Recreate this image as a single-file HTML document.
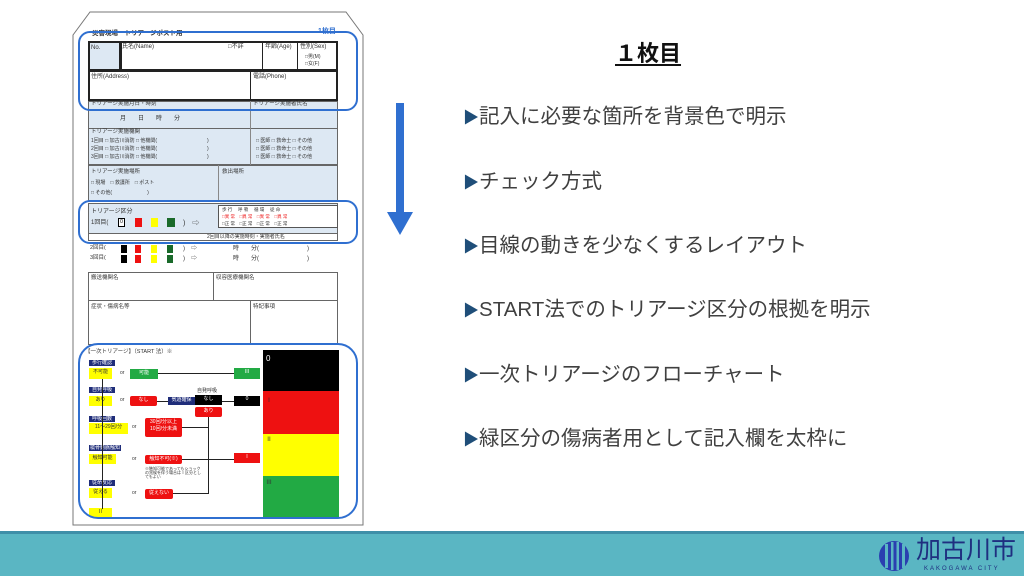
<!DOCTYPE html>
<html><head><meta charset="utf-8"><style>
*{margin:0;padding:0;box-sizing:border-box}
body{width:1024px;height:576px;position:relative;overflow:hidden;background:#fff;font-family:"Liberation Sans","Noto Sans CJK JP",sans-serif}
.a{position:absolute}
.t{position:absolute;font-size:6px;color:#333;white-space:nowrap;line-height:1}
.c{position:absolute;border:1px solid #666}
.lb{background:#dde8f3}
.nv{position:absolute;background:#1f2d7a;color:#fff;font-size:5px;text-align:center;line-height:6px}
.y{position:absolute;background:#ffff00;font-size:5px;text-align:center;color:#333}
.r{position:absolute;background:#ee1111;color:#fff;font-size:5px;text-align:center;border-radius:2px}
.g{position:absolute;background:#22aa44;color:#fff;font-size:5px;text-align:center}
.k{position:absolute;background:#000;color:#fff;font-size:5px;text-align:center}
.bl{position:absolute;border:2.5px solid #2f6fd0;border-radius:12px}
.b{position:absolute;left:463px;font-size:20.5px;color:#404040;white-space:nowrap}
.b span{color:#1f4e79;font-size:16px}
.ln{position:absolute;background:#222}
</style></head><body>
<svg class="a" style="left:0;top:0" width="380" height="540">
<polygon points="90,12 346,12 363,35 363,525 73,525 73,35" fill="#fff" stroke="#777" stroke-width="1"/>
</svg>
<div class="t" style="left:92px;top:31px;font-size:6.5px;font-weight:bold">災害現場ートリアージポスト用</div>
<div class="t" style="left:318px;top:28px;font-size:7px;color:#2f6fd0;font-weight:bold">1枚目</div>
<div class="c lb" style="left:88px;top:41px;width:33px;height:30px;border:2px solid #222"></div>
<div class="c" style="left:120px;top:41px;width:218px;height:30px;border:2px solid #222"></div>
<div class="ln" style="left:262px;top:41px;width:1px;height:30px"></div>
<div class="ln" style="left:297px;top:41px;width:1px;height:30px"></div>
<div class="t" style="left:91px;top:45px">No.</div>
<div class="t" style="left:122px;top:44px">氏名(Name)</div>
<div class="t" style="left:228px;top:44px">□不詳</div>
<div class="t" style="left:265px;top:44px">年齢(Age)</div>
<div class="t" style="left:300px;top:44px">性別(Sex)</div>
<div class="t" style="left:305px;top:55px;font-size:5px">□男(M)</div>
<div class="t" style="left:305px;top:62px;font-size:5px">□女(F)</div>
<div class="c" style="left:88px;top:70px;width:250px;height:31px;border:2px solid #222"></div>
<div class="ln" style="left:250px;top:70px;width:1px;height:31px"></div>
<div class="t" style="left:91px;top:74px">住所(Address)</div>
<div class="t" style="left:253px;top:74px">電話(Phone)</div>
<div class="c lb" style="left:88px;top:101px;width:250px;height:28px"></div>
<div class="ln" style="left:250px;top:101px;width:1px;height:28px;background:#888"></div>
<div class="t" style="left:91px;top:102px;font-size:5.5px">トリアージ実施月日・時刻</div>
<div class="t" style="left:253px;top:102px;font-size:5.5px">トリアージ実施者氏名</div>
<div class="t" style="left:120px;top:116px">月　　日　　時　　分</div>
<div class="c lb" style="left:88px;top:128px;width:250px;height:37px"></div>
<div class="ln" style="left:250px;top:128px;width:1px;height:37px;background:#888"></div>
<div class="t" style="left:91px;top:130px;font-size:5.5px">トリアージ実施機関</div>
<div class="t" style="left:91px;top:139px;font-size:5px">1回目 □ 加古川消防 □ 他機関(　　　　　　　　　　)</div>
<div class="t" style="left:91px;top:147px;font-size:5px">2回目 □ 加古川消防 □ 他機関(　　　　　　　　　　)</div>
<div class="t" style="left:91px;top:155px;font-size:5px">3回目 □ 加古川消防 □ 他機関(　　　　　　　　　　)</div>
<div class="t" style="left:256px;top:139px;font-size:5px">□ 医師 □ 救命士 □ その他</div>
<div class="t" style="left:256px;top:147px;font-size:5px">□ 医師 □ 救命士 □ その他</div>
<div class="t" style="left:256px;top:155px;font-size:5px">□ 医師 □ 救命士 □ その他</div>
<div class="c lb" style="left:88px;top:165px;width:250px;height:36px"></div>
<div class="ln" style="left:218px;top:165px;width:1px;height:36px;background:#888"></div>
<div class="t" style="left:91px;top:170px;font-size:5.5px">トリアージ実施場所</div>
<div class="t" style="left:91px;top:181px;font-size:5px">□ 現場　□ 救護所　□ ポスト</div>
<div class="t" style="left:91px;top:191px;font-size:5px">□ その他(　　　　　　　)</div>
<div class="t" style="left:222px;top:170px;font-size:5.5px">救出場所</div>
<div class="c lb" style="left:88px;top:203px;width:250px;height:31px"></div>
<div class="t" style="left:91px;top:209px;font-size:6px">トリアージ区分</div>
<div class="t" style="left:91px;top:220px;font-size:6px">1回目(</div>
<div class="k" style="left:118px;top:218px;width:7px;height:9px;border:1px solid #000;background:#fff;color:#000">0</div>
<div class="r" style="left:135px;top:218px;width:7px;height:9px;border-radius:0"></div>
<div class="y" style="left:151px;top:218px;width:7px;height:9px"></div>
<div class="g" style="left:167px;top:218px;width:8px;height:9px;background:#1a6a2a"></div>
<div class="t" style="left:183px;top:220px;font-size:7px">)　⇨</div>
<div class="a" style="left:218px;top:205px;width:120px;height:23px;border:1px solid #555;background:#fff"></div>
<div class="t" style="left:222px;top:208px;font-size:4.5px">歩 行　 呼 吸　 循 環　 従 命</div>
<div class="t" style="left:222px;top:215px;font-size:4.5px;color:#e22">□異 常　□異 常　□異 常　□異 常</div>
<div class="t" style="left:222px;top:222px;font-size:4.5px">□正 常　□正 常　□正 常　□正 常</div>
<div class="c" style="left:88px;top:233px;width:250px;height:8px"></div>
<div class="t" style="left:207px;top:235px;font-size:5px">2回目以降の実施時刻・実施者氏名</div>
<div class="t" style="left:90px;top:246px;font-size:5.5px">2回目(</div>
<div class="t" style="left:90px;top:256px;font-size:5.5px">3回目(</div>
<div class="k" style="left:121px;top:245px;width:6px;height:8px"></div><div class="r" style="left:135px;top:245px;width:6px;height:8px;border-radius:0"></div><div class="y" style="left:151px;top:245px;width:6px;height:8px"></div><div class="g" style="left:167px;top:245px;width:6px;height:8px;background:#1a6a2a"></div>
<div class="k" style="left:121px;top:255px;width:6px;height:8px"></div><div class="r" style="left:135px;top:255px;width:6px;height:8px;border-radius:0"></div><div class="y" style="left:151px;top:255px;width:6px;height:8px"></div><div class="g" style="left:167px;top:255px;width:6px;height:8px;background:#1a6a2a"></div>
<div class="t" style="left:183px;top:246px;font-size:6px">)　⇨　　　　　　時　　分(　　　　　　　　)</div>
<div class="t" style="left:183px;top:256px;font-size:6px">)　⇨　　　　　　時　　分(　　　　　　　　)</div>
<div class="c" style="left:88px;top:272px;width:250px;height:29px"></div>
<div class="ln" style="left:213px;top:272px;width:1px;height:29px;background:#666"></div>
<div class="t" style="left:91px;top:276px;font-size:5.5px">搬送機関名</div>
<div class="t" style="left:216px;top:276px;font-size:5.5px">収容医療機関名</div>
<div class="c" style="left:88px;top:300px;width:250px;height:45px"></div>
<div class="ln" style="left:250px;top:300px;width:1px;height:45px;background:#666"></div>
<div class="t" style="left:91px;top:305px;font-size:5.5px">症状・傷病名等</div>
<div class="t" style="left:253px;top:305px;font-size:5.5px">特記事項</div>
<div class="t" style="left:85px;top:350px;font-size:5.5px">【一次トリアージ】（START 法）※</div>
<div class="k" style="left:263px;top:350px;width:76px;height:41px"></div>
<div class="t" style="left:266px;top:355px;font-size:8px;color:#fff">0</div>
<div class="a" style="left:263px;top:391px;width:76px;height:43px;background:#ee1111"></div>
<div class="a" style="left:263px;top:434px;width:76px;height:42px;background:#ffff00"></div>
<div class="a" style="left:263px;top:476px;width:76px;height:42px;background:#22aa44"></div>
<div class="t" style="left:266px;top:398px;font-size:6px">Ⅰ</div>
<div class="t" style="left:266px;top:437px;font-size:6px">Ⅱ</div>
<div class="t" style="left:266px;top:480px;font-size:6px">Ⅲ</div>
<div class="nv" style="left:89px;top:360px;width:26px;height:6px">歩行確認</div>
<div class="y" style="left:89px;top:368px;width:23px;height:11px">不可能</div>
<div class="g" style="left:130px;top:369px;width:28px;height:10px">可能</div>
<div class="g" style="left:234px;top:368px;width:26px;height:11px">Ⅲ</div>
<div class="ln" style="left:158px;top:373px;width:76px;height:1px"></div>
<div class="nv" style="left:89px;top:387px;width:26px;height:6px">自発呼吸</div>
<div class="y" style="left:89px;top:396px;width:23px;height:10px">あり</div>
<div class="r" style="left:130px;top:396px;width:27px;height:10px">なし</div>
<div class="ln" style="left:157px;top:401px;width:11px;height:1px"></div>
<div class="nv" style="left:168px;top:397px;width:27px;height:8px">気道確保</div>
<div class="t" style="left:197px;top:389px;font-size:5px">自発呼吸</div>
<div class="k" style="left:195px;top:395px;width:27px;height:10px">なし</div>
<div class="r" style="left:195px;top:407px;width:27px;height:10px">あり</div>
<div class="ln" style="left:222px;top:401px;width:12px;height:1px"></div>
<div class="k" style="left:234px;top:396px;width:26px;height:10px">0</div>
<div class="nv" style="left:89px;top:416px;width:26px;height:6px">呼吸回数</div>
<div class="y" style="left:89px;top:423px;width:39px;height:11px">11〜29回/分</div>
<div class="r" style="left:145px;top:418px;width:37px;height:19px">30回/分以上<br>10回/分未満</div>
<div class="nv" style="left:89px;top:445px;width:32px;height:6px">橈骨動脈触知</div>
<div class="y" style="left:89px;top:454px;width:27px;height:10px">触知可能</div>
<div class="r" style="left:145px;top:455px;width:37px;height:9px">触知不可(※)</div>
<div class="ln" style="left:182px;top:459px;width:52px;height:1px"></div>
<div class="r" style="left:234px;top:453px;width:26px;height:10px;border-radius:0">Ⅰ</div>
<div class="t" style="left:145px;top:467px;font-size:4px">※触知可能であってもショック<br>の兆候を伴う場合はⅠ区分とし<br>てもよい</div>
<div class="nv" style="left:89px;top:480px;width:26px;height:6px">従命反応</div>
<div class="y" style="left:89px;top:488px;width:23px;height:10px">従える</div>
<div class="r" style="left:145px;top:489px;width:28px;height:10px">従えない</div>
<div class="y" style="left:89px;top:508px;width:23px;height:9px">Ⅱ</div>
<div class="ln" style="left:208px;top:417px;width:1px;height:76px"></div>
<div class="ln" style="left:182px;top:427px;width:26px;height:1px"></div>
<div class="ln" style="left:173px;top:493px;width:36px;height:1px"></div>
<div class="ln" style="left:102px;top:379px;width:1px;height:130px"></div>
<div class="t" style="left:120px;top:371px;font-size:5px">or</div>
<div class="t" style="left:120px;top:398px;font-size:5px">or</div>
<div class="t" style="left:132px;top:425px;font-size:5px">or</div>
<div class="t" style="left:132px;top:457px;font-size:5px">or</div>
<div class="t" style="left:132px;top:491px;font-size:5px">or</div>
<div class="bl" style="left:78px;top:31px;width:280px;height:80px"></div>
<div class="bl" style="left:78px;top:200px;width:280px;height:44px"></div>
<div class="bl" style="left:78px;top:343px;width:280px;height:176px;border-radius:20px"></div>
<svg class="a" style="left:385px;top:100px" width="30" height="140"><rect x="11" y="3" width="8" height="110" fill="#2f6fd0"/><polygon points="2,112 28,112 15,135" fill="#2f6fd0"/></svg>
<div class="a" style="left:615px;top:36px;font-size:22px;font-weight:bold;color:#111;text-decoration:underline;text-underline-offset:3px">１枚目</div>
<div class="b" style="top:99px"><span>▶</span>記入に必要な箇所を背景色で明示</div>
<div class="b" style="top:164px"><span>▶</span>チェック方式</div>
<div class="b" style="top:228px"><span>▶</span>目線の動きを少なくするレイアウト</div>
<div class="b" style="top:292px"><span>▶</span>START法でのトリアージ区分の根拠を明示</div>
<div class="b" style="top:357px"><span>▶</span>一次トリアージのフローチャート</div>
<div class="b" style="top:421px"><span>▶</span>緑区分の傷病者用として記入欄を太枠に</div>
<div class="a" style="left:0;top:531px;width:1024px;height:45px;background:#5ab6c3;border-top:3px solid #3f8fa8"></div>
<svg class="a" style="left:877px;top:539px" width="34" height="34"><circle cx="17" cy="17" r="15" fill="#2a3fb0"/><rect x="8" y="5" width="3" height="24" fill="#5ab6c3"/><rect x="14" y="3" width="2.5" height="28" fill="#5ab6c3"/><rect x="19.5" y="3" width="2.5" height="28" fill="#5ab6c3"/><rect x="25" y="5" width="3" height="24" fill="#5ab6c3"/></svg>
<div class="a" style="left:916px;top:538px;font-size:25px;color:#1f2f80;line-height:1">加古川市</div>
<div class="a" style="left:924px;top:566px;font-size:6px;color:#1f2f80;letter-spacing:2px">KAKOGAWA CITY</div>
</body></html>
